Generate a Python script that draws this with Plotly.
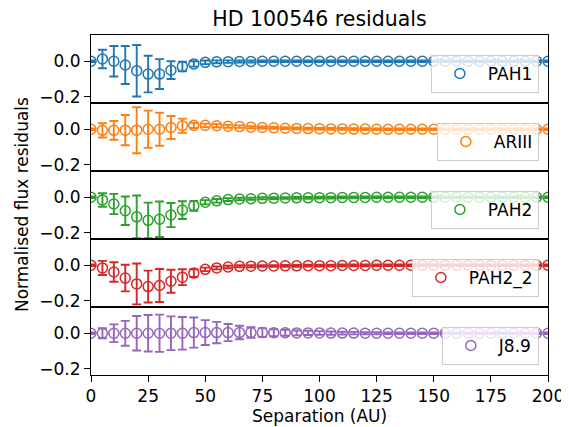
import plotly.graph_objects as go
from plotly.subplots import make_subplots

separation = [0, 5, 10, 15, 20, 25, 30, 35, 40, 45, 50, 55, 60, 65, 70, 75, 80, 85, 90, 95,
              100, 105, 110, 115, 120, 125, 130, 135, 140, 145, 150, 155, 160, 165, 170, 175,
              180, 185, 190, 195, 200]

series_names = ["PAH1", "ARIII", "PAH2", "PAH2_2", "J8.9"]
series_colors = ["#1f77b4", "#ff7f0e", "#2ca02c", "#d62728", "#9467bd"]

pah1 = [0.0, 0.013, 0.0, -0.021, -0.053, -0.072, -0.072, -0.05, -0.03, -0.015, -0.006, -0.003,
        -0.002, -0.001, -0.001, 0.0, 0.0, 0.0, 0.0, 0.0, 0.0, 0.0, 0.0, 0.0, 0.0, 0.0, 0.0,
        0.0, 0.0, 0.0, 0.0, 0.0, 0.0, 0.0, 0.0, 0.0, 0.0, 0.0, 0.0, 0.0, 0.0]
pah1_err = [0.004, 0.052, 0.086, 0.107, 0.145, 0.103, 0.084, 0.05, 0.027, 0.015, 0.01, 0.008,
            0.007, 0.006, 0.006, 0.005, 0.005, 0.005, 0.005, 0.005, 0.005, 0.005, 0.005, 0.005,
            0.005, 0.005, 0.005, 0.005, 0.005, 0.005, 0.005, 0.005, 0.005, 0.005, 0.005, 0.005,
            0.005, 0.005, 0.005, 0.005, 0.005]

ariii = [0.0, -0.006, -0.006, -0.005, -0.005, 0.0, 0.0, 0.01, 0.02, 0.022, 0.022, 0.02, 0.017,
         0.015, 0.012, 0.01, 0.008, 0.006, 0.005, 0.004, 0.003, 0.002, 0.002, 0.001, 0.001, 0.0,
         0.0, 0.0, 0.0, 0.0, 0.0, 0.0, 0.0, 0.0, 0.0, 0.0, 0.0, 0.0, 0.0, 0.0, 0.0]
ariii_err = [0.004, 0.04, 0.053, 0.085, 0.13, 0.105, 0.093, 0.065, 0.04, 0.015, 0.01, 0.009,
             0.008, 0.007, 0.006, 0.006, 0.005, 0.005, 0.005, 0.005, 0.005, 0.005, 0.005, 0.005,
             0.005, 0.005, 0.005, 0.005, 0.005, 0.005, 0.005, 0.005, 0.005, 0.005, 0.005, 0.005,
             0.005, 0.005, 0.005, 0.005, 0.005]

pah2 = [0.0, -0.015, -0.038, -0.076, -0.11, -0.13, -0.124, -0.1, -0.072, -0.048, -0.028, -0.02,
        -0.013, -0.01, -0.008, -0.006, -0.005, -0.004, -0.003, -0.003, -0.002, -0.002, -0.001,
        -0.001, -0.001, 0.0, 0.0, 0.0, 0.0, 0.0, 0.0, 0.0, 0.0, 0.0, 0.0, 0.0, 0.0, 0.0, 0.0,
        0.0, 0.0]
pah2_err = [0.004, 0.038, 0.057, 0.08, 0.12, 0.1, 0.1, 0.068, 0.05, 0.028, 0.012, 0.01, 0.008,
            0.007, 0.006, 0.006, 0.005, 0.005, 0.005, 0.005, 0.005, 0.005, 0.005, 0.005, 0.005,
            0.005, 0.005, 0.005, 0.005, 0.005, 0.005, 0.005, 0.005, 0.005, 0.005, 0.005, 0.005,
            0.005, 0.005, 0.005, 0.005]

pah2_2 = [0.0, -0.015, -0.038, -0.072, -0.105, -0.12, -0.114, -0.09, -0.067, -0.044, -0.023,
          -0.015, -0.01, -0.006, -0.005, -0.004, -0.004, -0.003, -0.003, -0.002, -0.002, -0.002,
          -0.001, -0.001, -0.001, 0.0, 0.0, 0.0, 0.0, 0.0, 0.0, 0.0, 0.0, 0.0, 0.0, 0.0, 0.0,
          0.0, 0.0, 0.0, 0.0]
pah2_2_err = [0.004, 0.04, 0.055, 0.075, 0.115, 0.09, 0.093, 0.065, 0.045, 0.022, 0.01, 0.008,
              0.007, 0.006, 0.006, 0.005, 0.005, 0.005, 0.005, 0.005, 0.005, 0.005, 0.005, 0.005,
              0.005, 0.005, 0.005, 0.005, 0.005, 0.005, 0.005, 0.005, 0.005, 0.005, 0.005, 0.005,
              0.005, 0.005, 0.005, 0.005, 0.005]

j89 = [0.0, 0.0, 0.0, 0.0, 0.0, 0.0, 0.0, 0.0, 0.0, 0.004, 0.004, 0.004, 0.004, 0.004, 0.004,
       0.004, 0.003, 0.003, 0.002, 0.002, 0.002, 0.001, 0.001, 0.001, 0.0, 0.0, 0.0, 0.0, 0.0,
       0.0, 0.0, 0.0, 0.0, 0.0, 0.0, 0.0, 0.0, 0.0, 0.0, 0.0, 0.0]
j89_err = [0.004, 0.028, 0.05, 0.07, 0.097, 0.103, 0.105, 0.095, 0.092, 0.085, 0.07, 0.06, 0.048,
           0.038, 0.03, 0.025, 0.02, 0.017, 0.014, 0.012, 0.01, 0.009, 0.008, 0.007, 0.006,
           0.006, 0.005, 0.005, 0.005, 0.005, 0.005, 0.005, 0.005, 0.005, 0.005, 0.005, 0.005,
           0.005, 0.005, 0.005, 0.005]

y_ticks = [-0.2, 0.0]
y_tick_labels = ["\u22120.2", "0.0"]
x_ticks = [0, 25, 50, 75, 100, 125, 150, 175, 200]

values = [pah1, ariii, pah2, pah2_2, j89]
errors = [pah1_err, ariii_err, pah2_err, pah2_2_err, j89_err]

# page body has an 8px margin: the figure is drawn from (8, 8)
OFF = 8
PAGE_W, PAGE_H = 569, 427
W, H = PAGE_W - OFF, PAGE_H - OFF
# plot area in page pixels
PL, PR, PT, PB = 91, 548, 35, 375
L, T = PL - OFF, PT - OFF
Rm, Bm = PAGE_W - PR, PAGE_H - PB
n = 5
fig = make_subplots(rows=n, cols=1, shared_xaxes=True, vertical_spacing=0)

font = "DejaVu Sans"
fs = 17
for i in range(n):
    lg = "legend" if i == 0 else f"legend{i+1}"
    fig.add_trace(go.Scatter(
        x=separation, y=values[i], name=series_names[i],
        mode="markers",
        marker=dict(symbol="circle-open", size=10, color=series_colors[i],
                    line=dict(width=1.5, color=series_colors[i])),
        error_y=dict(type="data", array=errors[i], visible=True, color=series_colors[i],
                     thickness=1.9, width=4.5),
        legend=lg, showlegend=True,
    ), row=i + 1, col=1)

    panel_bottom = PT + (PB - PT) / n * (i + 1)
    leg_bottom = panel_bottom - 10
    fig.layout[lg] = dict(
        x=0.98, xanchor="right", y=(PB - leg_bottom) / (PB - PT), yanchor="bottom",
        bgcolor="rgba(255,255,255,0.8)", bordercolor="#cccccc", borderwidth=1,
        font=dict(family=font, size=fs, color="black"),
        itemwidth=46, tracegroupgap=0,
    )

    fig.update_yaxes(range=[-0.235, 0.148], tickvals=y_ticks, ticktext=y_tick_labels,
                     ticks="outside", ticklen=6, tickwidth=1, tickcolor="black",
                     showline=True, linecolor="black", linewidth=1, mirror=True,
                     showgrid=False, zeroline=False, automargin=False,
                     tickfont=dict(family=font, size=fs, color="black"),
                     row=i + 1, col=1)
    fig.update_xaxes(range=[0, 200], tickvals=x_ticks,
                     showline=True, linecolor="black", linewidth=1, mirror=True,
                     showgrid=False, zeroline=False, automargin=False,
                     ticks="outside" if i == n - 1 else "", ticklen=6, tickcolor="black",
                     tickfont=dict(family=font, size=fs, color="black"),
                     row=i + 1, col=1)

fig.add_annotation(text="Separation (AU)",
                   xref="paper", yref="paper", x=0.5, y=-(415.5 - PB) / (PB - PT),
                   xanchor="center", yanchor="middle", showarrow=False,
                   font=dict(family=font, size=fs, color="black"))

fig.add_annotation(text="Normalised flux residuals", textangle=-90,
                   xref="paper", yref="paper", x=-(PL - 22) / (PR - PL), y=0.5,
                   xanchor="center", yanchor="middle", showarrow=False,
                   font=dict(family=font, size=fs, color="black"))

fig.update_layout(
    width=W, height=H,
    margin=dict(l=L, r=Rm, t=T, b=Bm, autoexpand=False),
    paper_bgcolor="white", plot_bgcolor="white",
    title=dict(text="HD 100546 residuals", x=((PL + PR) / 2 - OFF) / W, xanchor="center",
               y=1 - (19 - OFF) / H, yanchor="middle", automargin=False,
               font=dict(family=font, size=20.5, color="black")),
)

fig.write_html("out.html")
